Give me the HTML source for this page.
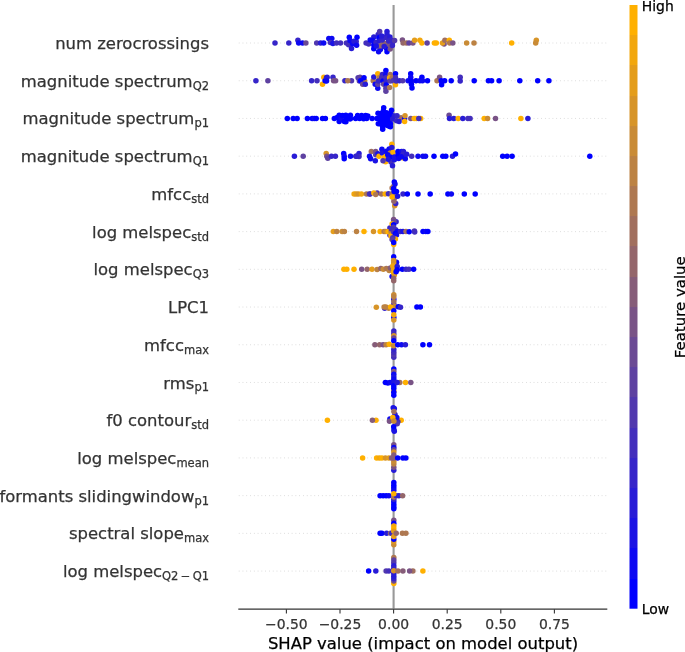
<!DOCTYPE html>
<html><head><meta charset="utf-8"><title>SHAP summary</title>
<style>html,body{margin:0;padding:0;background:#fff}svg{display:block}text{font-family:"DejaVu Sans","Liberation Sans",sans-serif;stroke-width:0.25px;paint-order:stroke fill}.g{stroke:#333}.k{stroke:#000}</style></head>
<body>
<svg width="685" height="652" viewBox="0 0 685 652">
<rect width="685" height="652" fill="#fff"/>
<line x1="393.6" x2="393.6" y1="5.1" y2="608.5" stroke="#999" stroke-width="2.1"/>
<line x1="238.8" x2="607" y1="43.00" y2="43.00" stroke="#c6c6c6" stroke-width="0.75" stroke-dasharray="0.75 3.03"/>
<line x1="238.8" x2="607" y1="80.72" y2="80.72" stroke="#c6c6c6" stroke-width="0.75" stroke-dasharray="0.75 3.03"/>
<line x1="238.8" x2="607" y1="118.44" y2="118.44" stroke="#c6c6c6" stroke-width="0.75" stroke-dasharray="0.75 3.03"/>
<line x1="238.8" x2="607" y1="156.16" y2="156.16" stroke="#c6c6c6" stroke-width="0.75" stroke-dasharray="0.75 3.03"/>
<line x1="238.8" x2="607" y1="193.88" y2="193.88" stroke="#c6c6c6" stroke-width="0.75" stroke-dasharray="0.75 3.03"/>
<line x1="238.8" x2="607" y1="231.60" y2="231.60" stroke="#c6c6c6" stroke-width="0.75" stroke-dasharray="0.75 3.03"/>
<line x1="238.8" x2="607" y1="269.32" y2="269.32" stroke="#c6c6c6" stroke-width="0.75" stroke-dasharray="0.75 3.03"/>
<line x1="238.8" x2="607" y1="307.04" y2="307.04" stroke="#c6c6c6" stroke-width="0.75" stroke-dasharray="0.75 3.03"/>
<line x1="238.8" x2="607" y1="344.76" y2="344.76" stroke="#c6c6c6" stroke-width="0.75" stroke-dasharray="0.75 3.03"/>
<line x1="238.8" x2="607" y1="382.48" y2="382.48" stroke="#c6c6c6" stroke-width="0.75" stroke-dasharray="0.75 3.03"/>
<line x1="238.8" x2="607" y1="420.20" y2="420.20" stroke="#c6c6c6" stroke-width="0.75" stroke-dasharray="0.75 3.03"/>
<line x1="238.8" x2="607" y1="457.92" y2="457.92" stroke="#c6c6c6" stroke-width="0.75" stroke-dasharray="0.75 3.03"/>
<line x1="238.8" x2="607" y1="495.64" y2="495.64" stroke="#c6c6c6" stroke-width="0.75" stroke-dasharray="0.75 3.03"/>
<line x1="238.8" x2="607" y1="533.36" y2="533.36" stroke="#c6c6c6" stroke-width="0.75" stroke-dasharray="0.75 3.03"/>
<line x1="238.8" x2="607" y1="571.08" y2="571.08" stroke="#c6c6c6" stroke-width="0.75" stroke-dasharray="0.75 3.03"/>
<g transform="translate(0,43.00)"><circle cx="275.0" cy="0.0" r="2.75" fill="#3625c9"/><circle cx="288.8" cy="0.0" r="2.75" fill="#3625c9"/><circle cx="297.9" cy="-2.8" r="2.75" fill="#3625c9"/><circle cx="298.7" cy="0.0" r="2.75" fill="#0d09f2"/><circle cx="302.5" cy="0.0" r="2.75" fill="#0d09f2"/><circle cx="305.9" cy="0.0" r="2.75" fill="#6b4a94"/><circle cx="316.7" cy="0.0" r="2.75" fill="#5138ae"/><circle cx="320.6" cy="0.0" r="2.75" fill="#281cd7"/><circle cx="323.7" cy="0.0" r="2.75" fill="#0d09f2"/><circle cx="328.8" cy="-4.4" r="2.75" fill="#0d09f2"/><circle cx="331.8" cy="-4.4" r="2.75" fill="#0d09f2"/><circle cx="330.3" cy="-0.4" r="2.75" fill="#432ebc"/><circle cx="332.9" cy="0.4" r="2.75" fill="#1b13e4"/><circle cx="336.5" cy="0.0" r="2.75" fill="#432ebc"/><circle cx="340.5" cy="0.0" r="2.75" fill="#432ebc"/><circle cx="346.4" cy="0.0" r="2.75" fill="#432ebc"/><circle cx="348.6" cy="1.8" r="2.75" fill="#432ebc"/><circle cx="349.3" cy="-5.8" r="2.75" fill="#0000ff"/><circle cx="350.0" cy="-2.6" r="2.75" fill="#0d09f2"/><circle cx="351.5" cy="5.5" r="2.75" fill="#281cd7"/><circle cx="356.2" cy="-1.5" r="2.75" fill="#3625c9"/><circle cx="352.6" cy="0.7" r="2.75" fill="#0d09f2"/><circle cx="354.0" cy="-1.8" r="2.75" fill="#281cd7"/><circle cx="357.0" cy="-5.8" r="2.75" fill="#0000ff"/><circle cx="356.6" cy="2.2" r="2.75" fill="#0d09f2"/><circle cx="366.1" cy="0.1" r="2.75" fill="#432ebc"/><circle cx="368.7" cy="1.0" r="2.75" fill="#432ebc"/><circle cx="370.2" cy="-3.0" r="2.75" fill="#0d09f2"/><circle cx="373.8" cy="-5.9" r="2.75" fill="#281cd7"/><circle cx="372.7" cy="-2.6" r="2.75" fill="#0d09f2"/><circle cx="373.8" cy="2.1" r="2.75" fill="#0000ff"/><circle cx="373.8" cy="5.8" r="2.75" fill="#0000ff"/><circle cx="376.0" cy="-0.4" r="2.75" fill="#3625c9"/><circle cx="378.2" cy="-8.5" r="2.75" fill="#3625c9"/><circle cx="379.7" cy="-11.4" r="2.75" fill="#5138ae"/><circle cx="378.9" cy="-5.2" r="2.75" fill="#0000ff"/><circle cx="379.3" cy="-1.9" r="2.75" fill="#281cd7"/><circle cx="378.6" cy="8.7" r="2.75" fill="#0d09f2"/><circle cx="380.4" cy="6.5" r="2.75" fill="#0d09f2"/><circle cx="378.6" cy="3.2" r="2.75" fill="#5138ae"/><circle cx="381.1" cy="2.8" r="2.75" fill="#94666b"/><circle cx="383.3" cy="-0.1" r="2.75" fill="#94666b"/><circle cx="384.4" cy="-5.2" r="2.75" fill="#432ebc"/><circle cx="387.0" cy="-11.4" r="2.75" fill="#281cd7"/><circle cx="387.0" cy="-8.5" r="2.75" fill="#281cd7"/><circle cx="387.3" cy="-5.2" r="2.75" fill="#3625c9"/><circle cx="385.9" cy="2.8" r="2.75" fill="#865d79"/><circle cx="387.3" cy="-0.1" r="2.75" fill="#865d79"/><circle cx="386.6" cy="5.4" r="2.75" fill="#0000ff"/><circle cx="387.0" cy="8.7" r="2.75" fill="#0000ff"/><circle cx="389.9" cy="-5.9" r="2.75" fill="#281cd7"/><circle cx="391.0" cy="-3.0" r="2.75" fill="#3625c9"/><circle cx="390.2" cy="6.1" r="2.75" fill="#795386"/><circle cx="389.5" cy="1.8" r="2.75" fill="#795386"/><circle cx="392.4" cy="2.5" r="2.75" fill="#3625c9"/><circle cx="392.8" cy="-1.2" r="2.75" fill="#3625c9"/><circle cx="394.6" cy="-2.6" r="2.75" fill="#5138ae"/><circle cx="382.2" cy="-3.0" r="2.75" fill="#3625c9"/><circle cx="384.2" cy="3.5" r="2.75" fill="#281cd7"/><circle cx="388.7" cy="-2.0" r="2.75" fill="#3625c9"/><circle cx="376.2" cy="3.0" r="2.75" fill="#1b13e4"/><circle cx="381.7" cy="-7.0" r="2.75" fill="#281cd7"/><circle cx="402.4" cy="-3.0" r="2.75" fill="#795386"/><circle cx="403.1" cy="0.0" r="2.75" fill="#94666b"/><circle cx="406.4" cy="0.0" r="2.75" fill="#a16f5e"/><circle cx="409.0" cy="0.0" r="2.75" fill="#5e41a1"/><circle cx="412.9" cy="0.0" r="2.75" fill="#795386"/><circle cx="414.6" cy="-2.8" r="2.75" fill="#e49d1b"/><circle cx="419.9" cy="-2.8" r="2.75" fill="#f2a70d"/><circle cx="421.9" cy="0.0" r="2.75" fill="#ffb000"/><circle cx="427.1" cy="0.0" r="2.75" fill="#5e41a1"/><circle cx="434.4" cy="0.0" r="2.75" fill="#ffb000"/><circle cx="436.3" cy="0.0" r="2.75" fill="#ffb000"/><circle cx="444.1" cy="1.0" r="2.75" fill="#795386"/><circle cx="442.5" cy="0.0" r="2.75" fill="#e49d1b"/><circle cx="444.9" cy="-2.8" r="2.75" fill="#a16f5e"/><circle cx="449.3" cy="-2.8" r="2.75" fill="#ffb000"/><circle cx="449.7" cy="0.0" r="2.75" fill="#ae7851"/><circle cx="452.8" cy="0.0" r="2.75" fill="#795386"/><circle cx="466.6" cy="0.0" r="2.75" fill="#c98b36"/><circle cx="474.0" cy="0.0" r="2.75" fill="#bc8243"/><circle cx="511.7" cy="0.0" r="2.75" fill="#ffb000"/><circle cx="536.3" cy="-2.8" r="2.75" fill="#d79428"/><circle cx="535.7" cy="0.0" r="2.75" fill="#c98b36"/></g>
<g transform="translate(0,80.72)"><circle cx="255.9" cy="0.0" r="2.75" fill="#3625c9"/><circle cx="267.9" cy="0.0" r="2.75" fill="#5e41a1"/><circle cx="311.6" cy="0.0" r="2.75" fill="#3625c9"/><circle cx="317.0" cy="0.0" r="2.75" fill="#432ebc"/><circle cx="323.8" cy="-3.4" r="2.75" fill="#ffb000"/><circle cx="322.5" cy="3.5" r="2.75" fill="#ffb000"/><circle cx="325.1" cy="0.0" r="2.75" fill="#0000ff"/><circle cx="327.1" cy="-3.4" r="2.75" fill="#3625c9"/><circle cx="333.0" cy="-3.4" r="2.75" fill="#3625c9"/><circle cx="333.6" cy="0.0" r="2.75" fill="#795386"/><circle cx="335.6" cy="0.0" r="2.75" fill="#795386"/><circle cx="326.5" cy="-3.0" r="2.75" fill="#281cd7"/><circle cx="326.5" cy="0.3" r="2.75" fill="#0d09f2"/><circle cx="344.9" cy="0.0" r="2.75" fill="#3625c9"/><circle cx="351.5" cy="0.0" r="2.75" fill="#5138ae"/><circle cx="347.8" cy="0.0" r="2.75" fill="#ae7851"/><circle cx="358.1" cy="-3.0" r="2.75" fill="#5138ae"/><circle cx="360.0" cy="-3.4" r="2.75" fill="#5e41a1"/><circle cx="359.4" cy="0.3" r="2.75" fill="#5138ae"/><circle cx="364.6" cy="0.3" r="2.75" fill="#c98b36"/><circle cx="360.7" cy="0.0" r="2.75" fill="#0000ff"/><circle cx="364.0" cy="-3.0" r="2.75" fill="#0000ff"/><circle cx="362.7" cy="3.5" r="2.75" fill="#6b4a94"/><circle cx="365.3" cy="3.5" r="2.75" fill="#281cd7"/><circle cx="373.2" cy="0.0" r="2.75" fill="#ae7851"/><circle cx="373.8" cy="-3.7" r="2.75" fill="#281cd7"/><circle cx="375.2" cy="3.5" r="2.75" fill="#0d09f2"/><circle cx="377.8" cy="-7.0" r="2.75" fill="#ffb000"/><circle cx="377.8" cy="7.5" r="2.75" fill="#0d09f2"/><circle cx="377.8" cy="3.5" r="2.75" fill="#5e41a1"/><circle cx="379.1" cy="-3.0" r="2.75" fill="#bc8243"/><circle cx="378.4" cy="0.3" r="2.75" fill="#3625c9"/><circle cx="382.4" cy="-6.3" r="2.75" fill="#3625c9"/><circle cx="381.7" cy="-3.0" r="2.75" fill="#432ebc"/><circle cx="383.0" cy="0.3" r="2.75" fill="#0000ff"/><circle cx="383.7" cy="3.5" r="2.75" fill="#6b4a94"/><circle cx="385.9" cy="-10.2" r="2.75" fill="#0000ff"/><circle cx="385.9" cy="-6.3" r="2.75" fill="#0d09f2"/><circle cx="385.9" cy="-3.0" r="2.75" fill="#432ebc"/><circle cx="386.3" cy="0.3" r="2.75" fill="#3625c9"/><circle cx="386.3" cy="4.2" r="2.75" fill="#0000ff"/><circle cx="385.9" cy="7.5" r="2.75" fill="#5138ae"/><circle cx="385.9" cy="10.5" r="2.75" fill="#5e41a1"/><circle cx="390.2" cy="-6.3" r="2.75" fill="#a16f5e"/><circle cx="389.6" cy="-3.0" r="2.75" fill="#f2a70d"/><circle cx="390.2" cy="0.3" r="2.75" fill="#5e41a1"/><circle cx="389.6" cy="6.8" r="2.75" fill="#ae7851"/><circle cx="392.2" cy="-3.0" r="2.75" fill="#ae7851"/><circle cx="392.9" cy="0.0" r="2.75" fill="#5138ae"/><circle cx="395.5" cy="4.0" r="2.75" fill="#ffb000"/><circle cx="395.5" cy="-7.0" r="2.75" fill="#0000ff"/><circle cx="395.5" cy="-3.0" r="2.75" fill="#432ebc"/><circle cx="396.2" cy="0.3" r="2.75" fill="#432ebc"/><circle cx="399.4" cy="0.0" r="2.75" fill="#3625c9"/><circle cx="402.7" cy="0.0" r="2.75" fill="#5138ae"/><circle cx="408.1" cy="0.0" r="2.75" fill="#0d09f2"/><circle cx="411.8" cy="0.3" r="2.75" fill="#c98b36"/><circle cx="410.7" cy="-7.0" r="2.75" fill="#0000ff"/><circle cx="410.7" cy="-3.4" r="2.75" fill="#0d09f2"/><circle cx="411.2" cy="0.3" r="2.75" fill="#0000ff"/><circle cx="411.4" cy="3.5" r="2.75" fill="#0000ff"/><circle cx="412.0" cy="7.2" r="2.75" fill="#0000ff"/><circle cx="416.0" cy="0.0" r="2.75" fill="#0000ff"/><circle cx="419.9" cy="0.0" r="2.75" fill="#0d09f2"/><circle cx="421.9" cy="-3.4" r="2.75" fill="#0000ff"/><circle cx="422.5" cy="0.0" r="2.75" fill="#0d09f2"/><circle cx="427.5" cy="0.0" r="2.75" fill="#0000ff"/><circle cx="437.0" cy="0.0" r="2.75" fill="#ae7851"/><circle cx="439.6" cy="-3.4" r="2.75" fill="#795386"/><circle cx="441.2" cy="0.0" r="2.75" fill="#0000ff"/><circle cx="441.6" cy="4.0" r="2.75" fill="#0000ff"/><circle cx="444.6" cy="0.0" r="2.75" fill="#0000ff"/><circle cx="451.2" cy="0.0" r="2.75" fill="#0000ff"/><circle cx="460.2" cy="-3.4" r="2.75" fill="#432ebc"/><circle cx="460.2" cy="0.3" r="2.75" fill="#3625c9"/><circle cx="474.2" cy="0.0" r="2.75" fill="#0000ff"/><circle cx="488.4" cy="0.0" r="2.75" fill="#0000ff"/><circle cx="491.6" cy="0.0" r="2.75" fill="#0000ff"/><circle cx="499.1" cy="0.0" r="2.75" fill="#0000ff"/><circle cx="519.8" cy="0.0" r="2.75" fill="#0000ff"/><circle cx="537.7" cy="0.0" r="2.75" fill="#0000ff"/><circle cx="548.9" cy="0.0" r="2.75" fill="#0000ff"/></g>
<g transform="translate(0,118.44)"><circle cx="287.3" cy="0.0" r="2.75" fill="#0000ff"/><circle cx="293.2" cy="0.0" r="2.75" fill="#0000ff"/><circle cx="297.1" cy="0.0" r="2.75" fill="#0000ff"/><circle cx="307.4" cy="0.0" r="2.75" fill="#0000ff"/><circle cx="312.2" cy="0.0" r="2.75" fill="#0000ff"/><circle cx="314.2" cy="0.0" r="2.75" fill="#0d09f2"/><circle cx="316.2" cy="0.0" r="2.75" fill="#0000ff"/><circle cx="322.5" cy="0.0" r="2.75" fill="#0000ff"/><circle cx="325.4" cy="0.0" r="2.75" fill="#0000ff"/><circle cx="334.3" cy="0.0" r="2.75" fill="#0000ff"/><circle cx="337.2" cy="-1.0" r="2.75" fill="#0000ff"/><circle cx="339.2" cy="-3.3" r="2.75" fill="#0000ff"/><circle cx="339.2" cy="3.0" r="2.75" fill="#0000ff"/><circle cx="341.2" cy="0.4" r="2.75" fill="#0d09f2"/><circle cx="342.5" cy="-3.0" r="2.75" fill="#0000ff"/><circle cx="344.4" cy="3.0" r="2.75" fill="#0000ff"/><circle cx="345.8" cy="-3.3" r="2.75" fill="#0000ff"/><circle cx="346.4" cy="0.0" r="2.75" fill="#0000ff"/><circle cx="350.4" cy="-3.3" r="2.75" fill="#0000ff"/><circle cx="350.4" cy="0.4" r="2.75" fill="#0000ff"/><circle cx="355.6" cy="0.0" r="2.75" fill="#0000ff"/><circle cx="357.6" cy="-3.0" r="2.75" fill="#0000ff"/><circle cx="359.6" cy="0.0" r="2.75" fill="#0000ff"/><circle cx="345.9" cy="3.3" r="2.75" fill="#0000ff"/><circle cx="347.2" cy="0.3" r="2.75" fill="#0000ff"/><circle cx="349.8" cy="0.4" r="2.75" fill="#0000ff"/><circle cx="361.6" cy="-3.0" r="2.75" fill="#0000ff"/><circle cx="363.6" cy="0.3" r="2.75" fill="#0000ff"/><circle cx="365.6" cy="-3.0" r="2.75" fill="#0000ff"/><circle cx="366.7" cy="0.1" r="2.75" fill="#0000ff"/><circle cx="367.8" cy="-2.4" r="2.75" fill="#0000ff"/><circle cx="372.1" cy="0.1" r="2.75" fill="#0000ff"/><circle cx="378.0" cy="-5.3" r="2.75" fill="#0000ff"/><circle cx="376.9" cy="0.1" r="2.75" fill="#0000ff"/><circle cx="378.3" cy="5.3" r="2.75" fill="#0000ff"/><circle cx="380.9" cy="-2.4" r="2.75" fill="#0000ff"/><circle cx="380.9" cy="2.7" r="2.75" fill="#0000ff"/><circle cx="383.7" cy="-10.8" r="2.75" fill="#0000ff"/><circle cx="383.4" cy="-7.5" r="2.75" fill="#0000ff"/><circle cx="383.4" cy="-4.2" r="2.75" fill="#0000ff"/><circle cx="383.4" cy="-0.9" r="2.75" fill="#0000ff"/><circle cx="383.4" cy="2.3" r="2.75" fill="#0000ff"/><circle cx="383.1" cy="6.0" r="2.75" fill="#0000ff"/><circle cx="382.7" cy="10.7" r="2.75" fill="#0000ff"/><circle cx="382.7" cy="8.5" r="2.75" fill="#0000ff"/><circle cx="386.4" cy="-5.7" r="2.75" fill="#0000ff"/><circle cx="386.4" cy="-2.4" r="2.75" fill="#0000ff"/><circle cx="386.4" cy="0.9" r="2.75" fill="#0000ff"/><circle cx="386.4" cy="4.2" r="2.75" fill="#0000ff"/><circle cx="387.1" cy="6.7" r="2.75" fill="#0000ff"/><circle cx="391.5" cy="-8.2" r="2.75" fill="#0000ff"/><circle cx="390.4" cy="-5.0" r="2.75" fill="#0000ff"/><circle cx="389.3" cy="-1.7" r="2.75" fill="#0000ff"/><circle cx="390.0" cy="1.6" r="2.75" fill="#0000ff"/><circle cx="390.4" cy="5.3" r="2.75" fill="#0000ff"/><circle cx="390.4" cy="8.2" r="2.75" fill="#0000ff"/><circle cx="392.2" cy="-2.4" r="2.75" fill="#0000ff"/><circle cx="379.7" cy="0.2" r="2.75" fill="#0000ff"/><circle cx="388.7" cy="7.5" r="2.75" fill="#0000ff"/><circle cx="380.5" cy="-5.0" r="2.75" fill="#0000ff"/><circle cx="380.7" cy="5.5" r="2.75" fill="#0000ff"/><circle cx="392.6" cy="0.5" r="2.75" fill="#281cd7"/><circle cx="394.4" cy="-2.4" r="2.75" fill="#281cd7"/><circle cx="401.0" cy="-0.6" r="2.75" fill="#a16f5e"/><circle cx="397.0" cy="-2.8" r="2.75" fill="#3625c9"/><circle cx="396.6" cy="2.3" r="2.75" fill="#3625c9"/><circle cx="399.1" cy="3.1" r="2.75" fill="#281cd7"/><circle cx="404.6" cy="0.1" r="2.75" fill="#0d09f2"/><circle cx="405.0" cy="-2.8" r="2.75" fill="#d79428"/><circle cx="404.6" cy="3.1" r="2.75" fill="#ffb000"/><circle cx="410.8" cy="0.0" r="2.75" fill="#795386"/><circle cx="414.2" cy="0.0" r="2.75" fill="#ffb000"/><circle cx="416.2" cy="0.0" r="2.75" fill="#ffb000"/><circle cx="420.7" cy="0.0" r="2.75" fill="#ffb000"/><circle cx="418.8" cy="0.0" r="2.75" fill="#432ebc"/><circle cx="449.1" cy="-3.2" r="2.75" fill="#6b4a94"/><circle cx="449.5" cy="0.0" r="2.75" fill="#281cd7"/><circle cx="453.8" cy="0.0" r="2.75" fill="#281cd7"/><circle cx="458.2" cy="0.0" r="2.75" fill="#ffb000"/><circle cx="462.8" cy="0.0" r="2.75" fill="#281cd7"/><circle cx="467.9" cy="0.0" r="2.75" fill="#432ebc"/><circle cx="470.1" cy="0.0" r="2.75" fill="#432ebc"/><circle cx="484.2" cy="0.0" r="2.75" fill="#ffb000"/><circle cx="487.6" cy="0.0" r="2.75" fill="#c98b36"/><circle cx="495.5" cy="0.0" r="2.75" fill="#795386"/><circle cx="520.9" cy="0.0" r="2.75" fill="#ffb000"/><circle cx="527.9" cy="0.0" r="2.75" fill="#281cd7"/></g>
<g transform="translate(0,156.16)"><circle cx="294.4" cy="0.0" r="2.75" fill="#281cd7"/><circle cx="303.2" cy="0.0" r="2.75" fill="#5e41a1"/><circle cx="326.2" cy="-2.6" r="2.75" fill="#d79428"/><circle cx="326.8" cy="0.0" r="2.75" fill="#795386"/><circle cx="327.8" cy="2.0" r="2.75" fill="#5e41a1"/><circle cx="331.4" cy="0.0" r="2.75" fill="#3625c9"/><circle cx="335.4" cy="0.0" r="2.75" fill="#3625c9"/><circle cx="343.7" cy="-2.6" r="2.75" fill="#0000ff"/><circle cx="344.2" cy="0.0" r="2.75" fill="#0d09f2"/><circle cx="344.2" cy="2.6" r="2.75" fill="#0000ff"/><circle cx="350.5" cy="0.0" r="2.75" fill="#0d09f2"/><circle cx="355.8" cy="0.0" r="2.75" fill="#3625c9"/><circle cx="359.0" cy="-2.6" r="2.75" fill="#281cd7"/><circle cx="359.0" cy="0.3" r="2.75" fill="#432ebc"/><circle cx="356.5" cy="0.0" r="2.75" fill="#3625c9"/><circle cx="371.3" cy="-4.7" r="2.75" fill="#a16f5e"/><circle cx="375.7" cy="-4.7" r="2.75" fill="#795386"/><circle cx="369.5" cy="0.1" r="2.75" fill="#0d09f2"/><circle cx="370.6" cy="2.6" r="2.75" fill="#0d09f2"/><circle cx="375.3" cy="4.5" r="2.75" fill="#1b13e4"/><circle cx="375.7" cy="-1.4" r="2.75" fill="#5e41a1"/><circle cx="377.9" cy="-2.5" r="2.75" fill="#1b13e4"/><circle cx="379.0" cy="0.1" r="2.75" fill="#ffb000"/><circle cx="381.9" cy="-6.9" r="2.75" fill="#0d09f2"/><circle cx="382.3" cy="-3.2" r="2.75" fill="#1b13e4"/><circle cx="385.9" cy="0.1" r="2.75" fill="#ffb000"/><circle cx="385.6" cy="5.5" r="2.75" fill="#ffb000"/><circle cx="384.1" cy="1.5" r="2.75" fill="#ffb000"/><circle cx="383.0" cy="4.5" r="2.75" fill="#5138ae"/><circle cx="386.3" cy="-5.0" r="2.75" fill="#0d09f2"/><circle cx="389.2" cy="-7.2" r="2.75" fill="#0d09f2"/><circle cx="391.8" cy="-12.0" r="2.75" fill="#ffb000"/><circle cx="391.8" cy="-8.7" r="2.75" fill="#281cd7"/><circle cx="390.3" cy="-3.2" r="2.75" fill="#bc8243"/><circle cx="393.2" cy="-3.6" r="2.75" fill="#ffb000"/><circle cx="390.7" cy="1.2" r="2.75" fill="#0000ff"/><circle cx="391.0" cy="5.9" r="2.75" fill="#432ebc"/><circle cx="392.5" cy="9.6" r="2.75" fill="#281cd7"/><circle cx="394.3" cy="0.8" r="2.75" fill="#1b13e4"/><circle cx="394.3" cy="3.7" r="2.75" fill="#1b13e4"/><circle cx="387.7" cy="-1.5" r="2.75" fill="#0d09f2"/><circle cx="388.2" cy="3.0" r="2.75" fill="#1b13e4"/><circle cx="398.0" cy="-4.7" r="2.75" fill="#0000ff"/><circle cx="398.0" cy="-1.4" r="2.75" fill="#0000ff"/><circle cx="402.3" cy="1.5" r="2.75" fill="#ffb000"/><circle cx="398.7" cy="2.3" r="2.75" fill="#0d09f2"/><circle cx="401.6" cy="-4.7" r="2.75" fill="#0d09f2"/><circle cx="403.4" cy="-4.7" r="2.75" fill="#281cd7"/><circle cx="403.1" cy="-1.8" r="2.75" fill="#3625c9"/><circle cx="405.3" cy="2.6" r="2.75" fill="#0d09f2"/><circle cx="406.7" cy="-1.8" r="2.75" fill="#281cd7"/><circle cx="401.2" cy="0.5" r="2.75" fill="#0d09f2"/><circle cx="411.7" cy="0.0" r="2.75" fill="#432ebc"/><circle cx="418.0" cy="0.0" r="2.75" fill="#0d09f2"/><circle cx="422.9" cy="0.0" r="2.75" fill="#0d09f2"/><circle cx="425.5" cy="0.0" r="2.75" fill="#0d09f2"/><circle cx="434.0" cy="0.0" r="2.75" fill="#0000ff"/><circle cx="442.8" cy="0.0" r="2.75" fill="#0000ff"/><circle cx="445.8" cy="0.0" r="2.75" fill="#0000ff"/><circle cx="452.5" cy="0.0" r="2.75" fill="#281cd7"/><circle cx="455.5" cy="-2.2" r="2.75" fill="#0000ff"/><circle cx="502.7" cy="0.0" r="2.75" fill="#0000ff"/><circle cx="507.1" cy="0.0" r="2.75" fill="#0000ff"/><circle cx="512.1" cy="0.0" r="2.75" fill="#0000ff"/><circle cx="589.8" cy="0.0" r="2.75" fill="#0000ff"/></g>
<g transform="translate(0,193.88)"><circle cx="354.1" cy="0.0" r="2.75" fill="#f2a70d"/><circle cx="356.2" cy="0.0" r="2.75" fill="#e49d1b"/><circle cx="358.4" cy="0.0" r="2.75" fill="#d79428"/><circle cx="361.4" cy="0.0" r="2.75" fill="#f2a70d"/><circle cx="366.5" cy="0.0" r="2.75" fill="#ae7851"/><circle cx="369.4" cy="0.0" r="2.75" fill="#5138ae"/><circle cx="370.2" cy="0.0" r="2.75" fill="#432ebc"/><circle cx="377.1" cy="-1.0" r="2.75" fill="#5138ae"/><circle cx="373.8" cy="-1.0" r="2.75" fill="#ffb000"/><circle cx="375.7" cy="0.5" r="2.75" fill="#ae7851"/><circle cx="381.5" cy="0.0" r="2.75" fill="#a16f5e"/><circle cx="385.2" cy="0.0" r="2.75" fill="#ffb000"/><circle cx="388.4" cy="-0.2" r="2.75" fill="#432ebc"/><circle cx="394.7" cy="11.8" r="2.75" fill="#d79428"/><circle cx="395.7" cy="9.6" r="2.75" fill="#3625c9"/><circle cx="393.9" cy="7.4" r="2.75" fill="#94666b"/><circle cx="394.2" cy="4.5" r="2.75" fill="#94666b"/><circle cx="392.1" cy="-6.0" r="2.75" fill="#ae7851"/><circle cx="393.9" cy="-7.9" r="2.75" fill="#a16f5e"/><circle cx="394.3" cy="-11.9" r="2.75" fill="#0000ff"/><circle cx="395.0" cy="-10.0" r="2.75" fill="#0d09f2"/><circle cx="395.7" cy="0.5" r="2.75" fill="#ae7851"/><circle cx="392.1" cy="-0.2" r="2.75" fill="#a16f5e"/><circle cx="397.6" cy="2.3" r="2.75" fill="#1b13e4"/><circle cx="393.6" cy="-5.3" r="2.75" fill="#0000ff"/><circle cx="396.5" cy="-2.4" r="2.75" fill="#0000ff"/><circle cx="394.2" cy="-2.5" r="2.75" fill="#0000ff"/><circle cx="392.1" cy="3.1" r="2.75" fill="#ffb000"/><circle cx="403.0" cy="0.0" r="2.75" fill="#3625c9"/><circle cx="407.3" cy="0.0" r="2.75" fill="#0000ff"/><circle cx="418.0" cy="0.0" r="2.75" fill="#0000ff"/><circle cx="430.2" cy="0.0" r="2.75" fill="#0000ff"/><circle cx="447.9" cy="0.0" r="2.75" fill="#0000ff"/><circle cx="451.3" cy="0.0" r="2.75" fill="#0d09f2"/><circle cx="464.3" cy="0.0" r="2.75" fill="#0000ff"/><circle cx="475.2" cy="0.0" r="2.75" fill="#0000ff"/></g>
<g transform="translate(0,231.60)"><circle cx="333.3" cy="0.0" r="2.75" fill="#e49d1b"/><circle cx="336.8" cy="0.0" r="2.75" fill="#bc8243"/><circle cx="342.1" cy="0.0" r="2.75" fill="#c98b36"/><circle cx="344.4" cy="0.0" r="2.75" fill="#bc8243"/><circle cx="356.5" cy="0.0" r="2.75" fill="#bc8243"/><circle cx="364.0" cy="0.0" r="2.75" fill="#ffb000"/><circle cx="373.5" cy="0.0" r="2.75" fill="#d79428"/><circle cx="380.1" cy="0.0" r="2.75" fill="#ffb000"/><circle cx="384.1" cy="0.0" r="2.75" fill="#ae7851"/><circle cx="385.9" cy="0.0" r="2.75" fill="#c98b36"/><circle cx="389.9" cy="-3.6" r="2.75" fill="#3625c9"/><circle cx="389.9" cy="3.3" r="2.75" fill="#3625c9"/><circle cx="396.1" cy="-9.9" r="2.75" fill="#3625c9"/><circle cx="388.1" cy="0.2" r="2.75" fill="#ffb000"/><circle cx="391.0" cy="-0.4" r="2.75" fill="#bc8243"/><circle cx="393.7" cy="12.8" r="2.75" fill="#ffb000"/><circle cx="393.6" cy="-12.0" r="2.75" fill="#795386"/><circle cx="393.9" cy="-9.9" r="2.75" fill="#6b4a94"/><circle cx="392.1" cy="-7.7" r="2.75" fill="#ffb000"/><circle cx="393.6" cy="-6.9" r="2.75" fill="#0000ff"/><circle cx="393.6" cy="-4.4" r="2.75" fill="#5138ae"/><circle cx="391.4" cy="-2.6" r="2.75" fill="#432ebc"/><circle cx="395.7" cy="-1.8" r="2.75" fill="#432ebc"/><circle cx="391.4" cy="2.6" r="2.75" fill="#bc8243"/><circle cx="391.0" cy="4.4" r="2.75" fill="#ffb000"/><circle cx="393.7" cy="0.5" r="2.75" fill="#5138ae"/><circle cx="397.2" cy="0.0" r="2.75" fill="#0d09f2"/><circle cx="395.4" cy="1.8" r="2.75" fill="#0000ff"/><circle cx="396.5" cy="3.3" r="2.75" fill="#0d09f2"/><circle cx="395.4" cy="7.3" r="2.75" fill="#ffb000"/><circle cx="392.8" cy="6.2" r="2.75" fill="#5138ae"/><circle cx="392.1" cy="8.0" r="2.75" fill="#5e41a1"/><circle cx="393.7" cy="10.9" r="2.75" fill="#0000ff"/><circle cx="400.5" cy="0.0" r="2.75" fill="#3625c9"/><circle cx="403.0" cy="0.0" r="2.75" fill="#1b13e4"/><circle cx="406.0" cy="0.0" r="2.75" fill="#a16f5e"/><circle cx="409.2" cy="0.2" r="2.75" fill="#0000ff"/><circle cx="414.4" cy="-0.7" r="2.75" fill="#5138ae"/><circle cx="414.7" cy="0.4" r="2.75" fill="#432ebc"/><circle cx="423.0" cy="0.0" r="2.75" fill="#0000ff"/><circle cx="425.8" cy="0.0" r="2.75" fill="#0d09f2"/><circle cx="427.9" cy="0.0" r="2.75" fill="#0000ff"/></g>
<g transform="translate(0,269.32)"><circle cx="343.9" cy="0.0" r="2.75" fill="#ffb000"/><circle cx="346.8" cy="0.0" r="2.75" fill="#ffb000"/><circle cx="354.0" cy="0.0" r="2.75" fill="#ffb000"/><circle cx="361.7" cy="0.0" r="2.75" fill="#795386"/><circle cx="367.2" cy="0.0" r="2.75" fill="#94666b"/><circle cx="372.0" cy="0.0" r="2.75" fill="#e49d1b"/><circle cx="377.1" cy="0.2" r="2.75" fill="#bc8243"/><circle cx="380.8" cy="-0.9" r="2.75" fill="#94666b"/><circle cx="383.3" cy="0.0" r="2.75" fill="#c98b36"/><circle cx="386.3" cy="-0.9" r="2.75" fill="#ae7851"/><circle cx="389.2" cy="1.3" r="2.75" fill="#bc8243"/><circle cx="390.3" cy="-1.2" r="2.75" fill="#865d79"/><circle cx="396.5" cy="-7.1" r="2.75" fill="#0d09f2"/><circle cx="392.1" cy="7.2" r="2.75" fill="#0d09f2"/><circle cx="393.7" cy="-12.6" r="2.75" fill="#0000ff"/><circle cx="393.7" cy="-8.9" r="2.75" fill="#d79428"/><circle cx="393.7" cy="-6.4" r="2.75" fill="#d79428"/><circle cx="392.8" cy="-3.4" r="2.75" fill="#f2a70d"/><circle cx="393.7" cy="0.0" r="2.75" fill="#f2a70d"/><circle cx="393.6" cy="3.5" r="2.75" fill="#ffb000"/><circle cx="394.3" cy="5.7" r="2.75" fill="#e49d1b"/><circle cx="393.7" cy="11.5" r="2.75" fill="#94666b"/><circle cx="393.7" cy="9.0" r="2.75" fill="#94666b"/><circle cx="397.2" cy="-2.7" r="2.75" fill="#281cd7"/><circle cx="397.2" cy="0.4" r="2.75" fill="#0000ff"/><circle cx="396.1" cy="2.4" r="2.75" fill="#0000ff"/><circle cx="402.3" cy="0.0" r="2.75" fill="#0000ff"/><circle cx="406.0" cy="0.0" r="2.75" fill="#3625c9"/><circle cx="408.9" cy="0.0" r="2.75" fill="#432ebc"/><circle cx="413.6" cy="0.0" r="2.75" fill="#0000ff"/></g>
<g transform="translate(0,307.04)"><circle cx="376.3" cy="0.2" r="2.75" fill="#d79428"/><circle cx="384.7" cy="1.2" r="2.75" fill="#3625c9"/><circle cx="384.1" cy="0.0" r="2.75" fill="#bc8243"/><circle cx="385.9" cy="0.0" r="2.75" fill="#bc8243"/><circle cx="388.8" cy="1.3" r="2.75" fill="#bc8243"/><circle cx="393.8" cy="-7.9" r="2.75" fill="#0000ff"/><circle cx="393.8" cy="-2.8" r="2.75" fill="#3625c9"/><circle cx="393.8" cy="10.4" r="2.75" fill="#0000ff"/><circle cx="393.8" cy="-12.2" r="2.75" fill="#c98b36"/><circle cx="393.8" cy="-10.2" r="2.75" fill="#bc8243"/><circle cx="393.8" cy="-5.5" r="2.75" fill="#a16f5e"/><circle cx="394.7" cy="-0.5" r="2.75" fill="#c98b36"/><circle cx="390.6" cy="0.0" r="2.75" fill="#ffb000"/><circle cx="393.8" cy="3.8" r="2.75" fill="#0000ff"/><circle cx="393.8" cy="7.8" r="2.75" fill="#f2a70d"/><circle cx="393.8" cy="13.0" r="2.75" fill="#d79428"/><circle cx="398.3" cy="-0.2" r="2.75" fill="#0000ff"/><circle cx="400.5" cy="0.2" r="2.75" fill="#3625c9"/><circle cx="416.9" cy="0.0" r="2.75" fill="#0000ff"/><circle cx="420.4" cy="0.0" r="2.75" fill="#0000ff"/></g>
<g transform="translate(0,344.76)"><circle cx="374.9" cy="0.0" r="2.75" fill="#865d79"/><circle cx="379.6" cy="0.0" r="2.75" fill="#94666b"/><circle cx="383.1" cy="0.0" r="2.75" fill="#795386"/><circle cx="386.1" cy="0.0" r="2.75" fill="#bc8243"/><circle cx="389.2" cy="-0.5" r="2.75" fill="#ffb000"/><circle cx="393.8" cy="-13.7" r="2.75" fill="#3625c9"/><circle cx="393.8" cy="-11.0" r="2.75" fill="#432ebc"/><circle cx="393.8" cy="-8.9" r="2.75" fill="#d79428"/><circle cx="393.8" cy="-6.7" r="2.75" fill="#6b4a94"/><circle cx="393.8" cy="-4.0" r="2.75" fill="#0000ff"/><circle cx="393.8" cy="12.6" r="2.75" fill="#432ebc"/><circle cx="393.8" cy="10.0" r="2.75" fill="#5138ae"/><circle cx="393.8" cy="7.4" r="2.75" fill="#432ebc"/><circle cx="393.8" cy="4.7" r="2.75" fill="#3625c9"/><circle cx="393.5" cy="0.9" r="2.75" fill="#c98b36"/><circle cx="397.7" cy="0.0" r="2.75" fill="#0000ff"/><circle cx="401.5" cy="0.0" r="2.75" fill="#0d09f2"/><circle cx="405.4" cy="0.0" r="2.75" fill="#281cd7"/><circle cx="422.9" cy="0.0" r="2.75" fill="#0000ff"/><circle cx="429.5" cy="0.0" r="2.75" fill="#0000ff"/></g>
<g transform="translate(0,382.48)"><circle cx="385.4" cy="0.0" r="2.75" fill="#0000ff"/><circle cx="387.9" cy="0.5" r="2.75" fill="#0000ff"/><circle cx="390.1" cy="0.0" r="2.75" fill="#0d09f2"/><circle cx="393.8" cy="-13.5" r="2.75" fill="#0000ff"/><circle cx="393.8" cy="-10.9" r="2.75" fill="#865d79"/><circle cx="393.8" cy="-8.2" r="2.75" fill="#0d09f2"/><circle cx="393.8" cy="-5.6" r="2.75" fill="#1b13e4"/><circle cx="393.8" cy="-3.0" r="2.75" fill="#0d09f2"/><circle cx="393.8" cy="0.0" r="2.75" fill="#1b13e4"/><circle cx="393.8" cy="3.2" r="2.75" fill="#0000ff"/><circle cx="393.8" cy="8.4" r="2.75" fill="#e49d1b"/><circle cx="393.8" cy="5.8" r="2.75" fill="#0000ff"/><circle cx="393.8" cy="9.8" r="2.75" fill="#0000ff"/><circle cx="393.8" cy="12.8" r="2.75" fill="#0000ff"/><circle cx="399.8" cy="0.0" r="2.75" fill="#a16f5e"/><circle cx="397.1" cy="0.0" r="2.75" fill="#281cd7"/><circle cx="405.5" cy="0.0" r="2.75" fill="#ffb000"/><circle cx="410.8" cy="0.0" r="2.75" fill="#795386"/></g>
<g transform="translate(0,420.20)"><circle cx="327.4" cy="0.0" r="2.75" fill="#ffb000"/><circle cx="376.0" cy="0.1" r="2.75" fill="#ffb000"/><circle cx="372.4" cy="0.1" r="2.75" fill="#865d79"/><circle cx="401.2" cy="0.1" r="2.75" fill="#ffb000"/><circle cx="393.2" cy="-12.4" r="2.75" fill="#1b13e4"/><circle cx="394.3" cy="-11.7" r="2.75" fill="#1b13e4"/><circle cx="395.0" cy="-5.8" r="2.75" fill="#281cd7"/><circle cx="393.9" cy="-8.8" r="2.75" fill="#a16f5e"/><circle cx="389.9" cy="-1.1" r="2.75" fill="#0d09f2"/><circle cx="397.9" cy="1.5" r="2.75" fill="#432ebc"/><circle cx="397.2" cy="3.6" r="2.75" fill="#5138ae"/><circle cx="396.8" cy="-2.6" r="2.75" fill="#0d09f2"/><circle cx="389.5" cy="1.1" r="2.75" fill="#795386"/><circle cx="392.8" cy="-2.6" r="2.75" fill="#ffb000"/><circle cx="393.9" cy="0.7" r="2.75" fill="#c98b36"/><circle cx="394.3" cy="11.0" r="2.75" fill="#1b13e4"/><circle cx="393.9" cy="9.5" r="2.75" fill="#1b13e4"/><circle cx="393.7" cy="6.6" r="2.75" fill="#0000ff"/></g>
<g transform="translate(0,457.92)"><circle cx="362.6" cy="0.0" r="2.75" fill="#ffb000"/><circle cx="376.6" cy="0.0" r="2.75" fill="#ffb000"/><circle cx="379.3" cy="0.0" r="2.75" fill="#f2a70d"/><circle cx="381.9" cy="0.0" r="2.75" fill="#ffb000"/><circle cx="385.4" cy="0.0" r="2.75" fill="#d79428"/><circle cx="388.9" cy="0.0" r="2.75" fill="#e49d1b"/><circle cx="393.8" cy="-13.1" r="2.75" fill="#795386"/><circle cx="393.8" cy="-10.5" r="2.75" fill="#0d09f2"/><circle cx="393.8" cy="-8.2" r="2.75" fill="#6b4a94"/><circle cx="393.8" cy="-5.8" r="2.75" fill="#d79428"/><circle cx="393.8" cy="12.3" r="2.75" fill="#281cd7"/><circle cx="393.8" cy="9.3" r="2.75" fill="#795386"/><circle cx="393.8" cy="6.1" r="2.75" fill="#bc8243"/><circle cx="393.8" cy="3.5" r="2.75" fill="#c98b36"/><circle cx="393.8" cy="-3.0" r="2.75" fill="#865d79"/><circle cx="391.5" cy="0.0" r="2.75" fill="#865d79"/><circle cx="393.8" cy="0.0" r="2.75" fill="#865d79"/><circle cx="397.7" cy="0.0" r="2.75" fill="#0000ff"/><circle cx="402.9" cy="0.0" r="2.75" fill="#0000ff"/><circle cx="405.9" cy="0.0" r="2.75" fill="#0000ff"/></g>
<g transform="translate(0,495.64)"><circle cx="380.1" cy="0.0" r="2.75" fill="#0000ff"/><circle cx="383.1" cy="0.0" r="2.75" fill="#0000ff"/><circle cx="386.1" cy="0.0" r="2.75" fill="#0000ff"/><circle cx="388.9" cy="0.0" r="2.75" fill="#0d09f2"/><circle cx="393.8" cy="-13.1" r="2.75" fill="#0000ff"/><circle cx="393.8" cy="-10.5" r="2.75" fill="#0000ff"/><circle cx="393.8" cy="-7.9" r="2.75" fill="#0000ff"/><circle cx="393.8" cy="-5.3" r="2.75" fill="#0d09f2"/><circle cx="393.8" cy="13.1" r="2.75" fill="#0000ff"/><circle cx="393.8" cy="11.4" r="2.75" fill="#0000ff"/><circle cx="393.8" cy="8.8" r="2.75" fill="#0000ff"/><circle cx="393.8" cy="6.1" r="2.75" fill="#0000ff"/><circle cx="393.8" cy="3.5" r="2.75" fill="#3625c9"/><circle cx="393.8" cy="1.4" r="2.75" fill="#ae7851"/><circle cx="396.2" cy="0.0" r="2.75" fill="#3625c9"/><circle cx="398.9" cy="0.0" r="2.75" fill="#281cd7"/><circle cx="402.6" cy="0.0" r="2.75" fill="#94666b"/><circle cx="393.8" cy="-1.8" r="2.75" fill="#ffb000"/></g>
<g transform="translate(0,533.36)"><circle cx="380.1" cy="0.0" r="2.75" fill="#0000ff"/><circle cx="381.9" cy="0.0" r="2.75" fill="#0000ff"/><circle cx="386.6" cy="0.0" r="2.75" fill="#281cd7"/><circle cx="390.5" cy="0.0" r="2.75" fill="#94666b"/><circle cx="391.9" cy="0.0" r="2.75" fill="#3625c9"/><circle cx="393.8" cy="-13.1" r="2.75" fill="#795386"/><circle cx="393.8" cy="-10.0" r="2.75" fill="#0000ff"/><circle cx="393.8" cy="-7.4" r="2.75" fill="#f2a70d"/><circle cx="393.8" cy="-4.7" r="2.75" fill="#ffb000"/><circle cx="393.8" cy="-2.1" r="2.75" fill="#e49d1b"/><circle cx="393.8" cy="11.4" r="2.75" fill="#c98b36"/><circle cx="393.8" cy="8.4" r="2.75" fill="#d79428"/><circle cx="393.8" cy="5.8" r="2.75" fill="#0000ff"/><circle cx="393.8" cy="3.2" r="2.75" fill="#e49d1b"/><circle cx="396.2" cy="0.0" r="2.75" fill="#94666b"/><circle cx="402.4" cy="0.0" r="2.75" fill="#ae7851"/><circle cx="405.9" cy="0.0" r="2.75" fill="#ae7851"/></g>
<g transform="translate(0,571.08)"><circle cx="368.6" cy="0.0" r="2.75" fill="#0000ff"/><circle cx="375.8" cy="0.0" r="2.75" fill="#281cd7"/><circle cx="386.1" cy="0.0" r="2.75" fill="#5138ae"/><circle cx="388.9" cy="0.0" r="2.75" fill="#432ebc"/><circle cx="393.8" cy="12.4" r="2.75" fill="#ffb000"/><circle cx="393.8" cy="-13.7" r="2.75" fill="#ae7851"/><circle cx="393.8" cy="-11.2" r="2.75" fill="#5e41a1"/><circle cx="393.8" cy="-8.4" r="2.75" fill="#5138ae"/><circle cx="393.8" cy="-5.4" r="2.75" fill="#281cd7"/><circle cx="393.8" cy="-2.8" r="2.75" fill="#3625c9"/><circle cx="393.8" cy="10.0" r="2.75" fill="#6b4a94"/><circle cx="393.8" cy="7.7" r="2.75" fill="#3625c9"/><circle cx="393.8" cy="5.1" r="2.75" fill="#281cd7"/><circle cx="393.8" cy="2.5" r="2.75" fill="#281cd7"/><circle cx="393.8" cy="-0.3" r="2.75" fill="#d79428"/><circle cx="398.0" cy="0.0" r="2.75" fill="#a16f5e"/><circle cx="402.9" cy="0.0" r="2.75" fill="#865d79"/><circle cx="412.9" cy="0.0" r="2.75" fill="#a16f5e"/><circle cx="409.6" cy="0.0" r="2.75" fill="#795386"/><circle cx="422.9" cy="0.0" r="2.75" fill="#ffb000"/></g>
<line x1="238.3" x2="607.3" y1="609.2" y2="609.2" stroke="#333" stroke-width="1.3"/>
<line x1="286.4" x2="286.4" y1="609.2" y2="613.5" stroke="#333" stroke-width="1.1"/><text x="286.4" y="628.5" font-size="13.92" class="g" fill="#333" text-anchor="middle">−0.50</text>
<line x1="340.0" x2="340.0" y1="609.2" y2="613.5" stroke="#333" stroke-width="1.1"/><text x="340.0" y="628.5" font-size="13.92" class="g" fill="#333" text-anchor="middle">−0.25</text>
<line x1="393.6" x2="393.6" y1="609.2" y2="613.5" stroke="#333" stroke-width="1.1"/><text x="393.6" y="628.5" font-size="13.92" class="g" fill="#333" text-anchor="middle">0.00</text>
<line x1="447.2" x2="447.2" y1="609.2" y2="613.5" stroke="#333" stroke-width="1.1"/><text x="447.2" y="628.5" font-size="13.92" class="g" fill="#333" text-anchor="middle">0.25</text>
<line x1="500.8" x2="500.8" y1="609.2" y2="613.5" stroke="#333" stroke-width="1.1"/><text x="500.8" y="628.5" font-size="13.92" class="g" fill="#333" text-anchor="middle">0.50</text>
<line x1="554.4" x2="554.4" y1="609.2" y2="613.5" stroke="#333" stroke-width="1.1"/><text x="554.4" y="628.5" font-size="13.92" class="g" fill="#333" text-anchor="middle">0.75</text>
<text x="423" y="648.7" font-size="16.45" class="k" fill="#000" text-anchor="middle">SHAP value (impact on model output)</text>
<text x="209.0" y="49.2" font-size="16.45" class="g" fill="#333" text-anchor="end">num zerocrossings</text>
<text x="209.0" y="86.7" font-size="16.45" class="g" fill="#333" text-anchor="end">magnitude spectrum<tspan font-size="11.5" dy="2.9">Q2</tspan></text>
<text x="209.0" y="124.4" font-size="16.45" class="g" fill="#333" text-anchor="end">magnitude spectrum<tspan font-size="11.5" dy="2.9">p1</tspan></text>
<text x="209.0" y="162.2" font-size="16.45" class="g" fill="#333" text-anchor="end">magnitude spectrum<tspan font-size="11.5" dy="2.9">Q1</tspan></text>
<text x="209.0" y="199.9" font-size="16.45" class="g" fill="#333" text-anchor="end">mfcc<tspan font-size="11.5" dy="2.9">std</tspan></text>
<text x="209.0" y="237.6" font-size="16.45" class="g" fill="#333" text-anchor="end">log melspec<tspan font-size="11.5" dy="2.9">std</tspan></text>
<text x="209.0" y="275.3" font-size="16.45" class="g" fill="#333" text-anchor="end">log melspec<tspan font-size="11.5" dy="2.9">Q3</tspan></text>
<text x="209.0" y="313.2" font-size="16.45" class="g" fill="#333" text-anchor="end">LPC1</text>
<text x="209.0" y="350.8" font-size="16.45" class="g" fill="#333" text-anchor="end">mfcc<tspan font-size="11.5" dy="2.9">max</tspan></text>
<text x="209.0" y="388.5" font-size="16.45" class="g" fill="#333" text-anchor="end">rms<tspan font-size="11.5" dy="2.9">p1</tspan></text>
<text x="209.0" y="426.2" font-size="16.45" class="g" fill="#333" text-anchor="end">f0 contour<tspan font-size="11.5" dy="2.9">std</tspan></text>
<text x="209.0" y="463.9" font-size="16.45" class="g" fill="#333" text-anchor="end">log melspec<tspan font-size="11.5" dy="2.9">mean</tspan></text>
<text x="209.0" y="501.6" font-size="16.45" class="g" fill="#333" text-anchor="end">formants slidingwindow<tspan font-size="11.5" dy="2.9">p1</tspan></text>
<text x="209.0" y="539.4" font-size="16.45" class="g" fill="#333" text-anchor="end">spectral slope<tspan font-size="11.5" dy="2.9">max</tspan></text>
<text x="209.0" y="577.1" font-size="16.45" class="g" fill="#333" text-anchor="end">log melspec<tspan font-size="11.5" dy="2.9">Q2 − Q1</tspan></text>
<defs><linearGradient id="cb" x1="0" y1="0" x2="0" y2="1"><stop offset="0%" stop-color="#ffb000"/><stop offset="5%" stop-color="#ffb000"/><stop offset="5%" stop-color="#f2a70d"/><stop offset="10%" stop-color="#f2a70d"/><stop offset="10%" stop-color="#e49d1b"/><stop offset="15%" stop-color="#e49d1b"/><stop offset="15%" stop-color="#d79428"/><stop offset="20%" stop-color="#d79428"/><stop offset="20%" stop-color="#c98b36"/><stop offset="25%" stop-color="#c98b36"/><stop offset="25%" stop-color="#bc8243"/><stop offset="30%" stop-color="#bc8243"/><stop offset="30%" stop-color="#ae7851"/><stop offset="35%" stop-color="#ae7851"/><stop offset="35%" stop-color="#a16f5e"/><stop offset="40%" stop-color="#a16f5e"/><stop offset="40%" stop-color="#94666b"/><stop offset="45%" stop-color="#94666b"/><stop offset="45%" stop-color="#865d79"/><stop offset="50%" stop-color="#865d79"/><stop offset="50%" stop-color="#795386"/><stop offset="55%" stop-color="#795386"/><stop offset="55%" stop-color="#6b4a94"/><stop offset="60%" stop-color="#6b4a94"/><stop offset="60%" stop-color="#5e41a1"/><stop offset="65%" stop-color="#5e41a1"/><stop offset="65%" stop-color="#5138ae"/><stop offset="70%" stop-color="#5138ae"/><stop offset="70%" stop-color="#432ebc"/><stop offset="75%" stop-color="#432ebc"/><stop offset="75%" stop-color="#3625c9"/><stop offset="80%" stop-color="#3625c9"/><stop offset="80%" stop-color="#281cd7"/><stop offset="85%" stop-color="#281cd7"/><stop offset="85%" stop-color="#1b13e4"/><stop offset="90%" stop-color="#1b13e4"/><stop offset="90%" stop-color="#0d09f2"/><stop offset="95%" stop-color="#0d09f2"/><stop offset="95%" stop-color="#0000ff"/><stop offset="100%" stop-color="#0000ff"/></linearGradient></defs>
<rect x="629.5" y="5.0" width="8" height="603.70" fill="url(#cb)"/>
<text x="641.8" y="10.5" font-size="13.92" class="k" fill="#000">High</text>
<text x="641.8" y="614.3" font-size="13.92" class="k" fill="#000">Low</text>
<text transform="translate(685.1,307.3) rotate(-90)" font-size="14.95" class="k" fill="#000" text-anchor="middle">Feature value</text>
</svg>
</body></html>
